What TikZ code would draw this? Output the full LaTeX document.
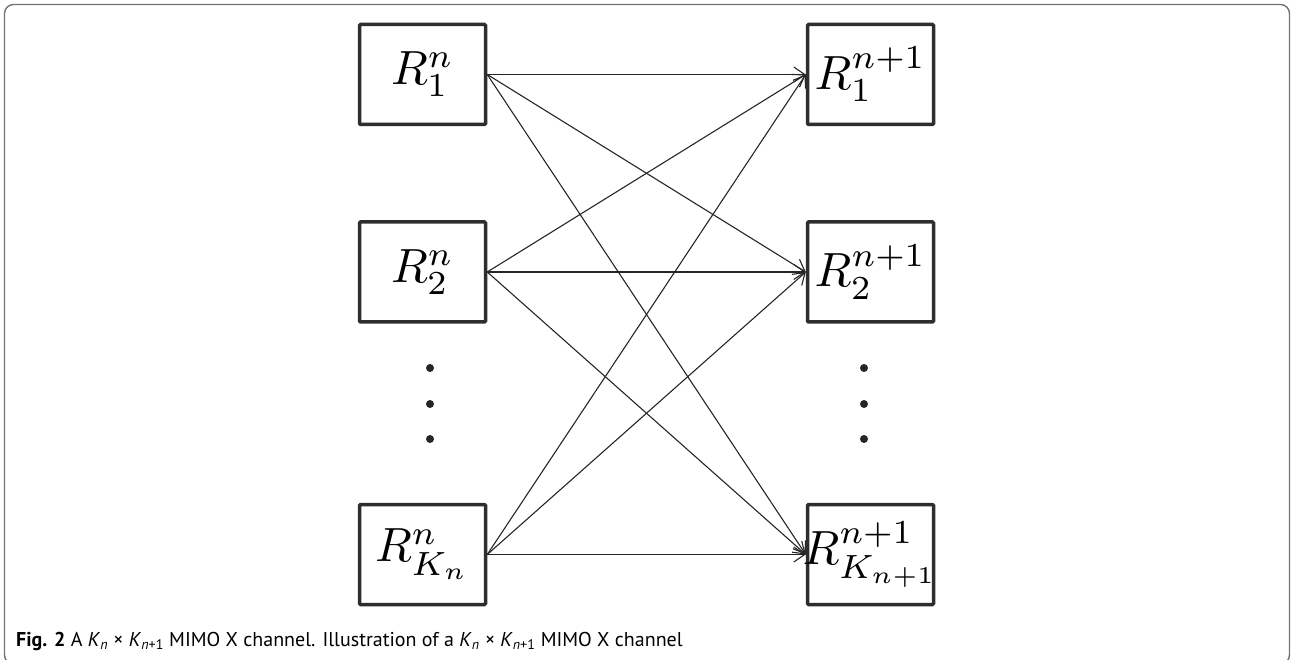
\documentclass[tikz,border=0pt]{standalone}
\usepackage{graphicx}
\usepackage{fontspec}
\setsansfont{PT Sans}
\usetikzlibrary{arrows.meta}
\newcommand\capK[1]{\textit{K}\textsubscript{#1}}
\newcommand\bigmath[1]{\makebox[110pt][c]{\scalebox{4.8}{$#1$}}}
\begin{document}
\begin{tikzpicture}[x=1pt,y=-1pt,
  rbox/.style={draw=black!82, line width=3.5pt, rounded corners=1pt,
    minimum width=126pt, minimum height=100pt, inner sep=0pt},
  link/.style={draw=black!85, line width=1.1pt,
    -{Straight Barb[length=11pt,width=15pt,line width=1.1pt]}},
  vdot/.style={fill=black!85, draw=none, circle, minimum size=8pt, inner sep=0pt},
  frame/.style={draw=black!55, line width=1.4pt, rounded corners=9pt}]
\useasboundingbox (0,0) rectangle (1291,660);
\draw[frame] (4.5,4.5) rectangle (1289.5,664);
% left column
\node[rbox] (L1) at (422.5,74.5) {\bigmath{R_1^n}};
\node[rbox] (L2) at (422.5,272) {\bigmath{R_2^n}};
\node[rbox] (L3) at (422.5,554.5) {\bigmath{R_{K_n}^n}};
% right column
\node[rbox] (R1) at (870.5,74.5) {\bigmath{R_1^{n+1}}};
\node[rbox] (R2) at (870.5,272) {\bigmath{R_2^{n+1}}};
\node[rbox] (R3) at (870.5,554.5) {\bigmath{R_{K_{n+1}}^{n+1}}};
% dots
\node[vdot] (dl1) at (430,368) {};
\node[vdot] (dl2) at (430,404) {};
\node[vdot] (dl3) at (430,439) {};
\node[vdot] (dr1) at (864,368) {};
\node[vdot] (dr2) at (864,404) {};
\node[vdot] (dr3) at (864,439) {};
% links
\foreach \i in {1,2,3}{
  \foreach \j in {1,2,3}{
    \draw[link] (L\i.east) -- (R\j.west);
  }
}
\node[anchor=base west, inner sep=0pt, font=\sffamily\fontsize{20}{24}\selectfont] (cap) at (16,646)
 {\textbf{Fig. 2} A \capK{\textit{n}} × \capK{\textit{n}+1} MIMO X channel. Illustration of a \capK{\textit{n}} × \capK{\textit{n}+1} MIMO X channel};
\end{tikzpicture}
\end{document}
